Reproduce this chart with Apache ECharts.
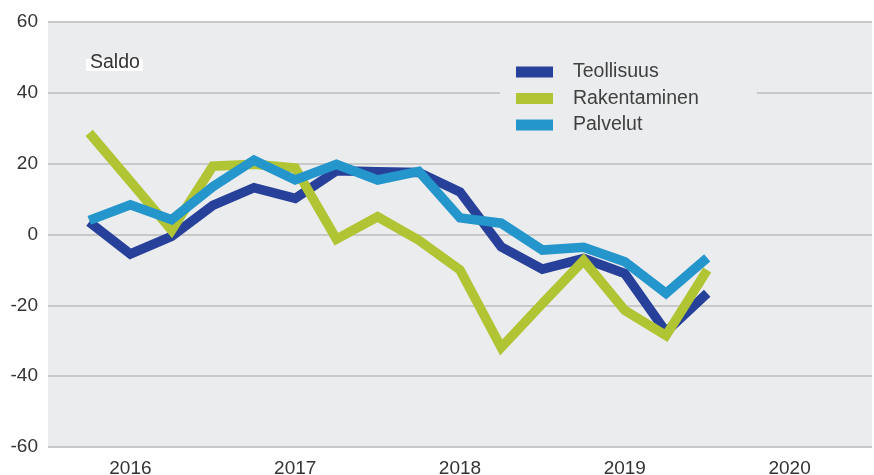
<!DOCTYPE html>
<html>
<head>
<meta charset="utf-8">
<script src="https://cdn.jsdelivr.net/npm/echarts@6/dist/echarts.min.js"></script>
<style>
    html, body {margin: 0; padding: 0; background: #fff;}
    #chart {width: 874px; height: 475px;}
</style>
</head>
<body>
<div id="chart"></div>
<script>
// neljännekset, ensimmäinen ja kolme viimeistä tyhjiä
var quarters = ['2015Q3', '2015Q4',
    '2016Q1', '2016Q2', '2016Q3', '2016Q4',
    '2017Q1', '2017Q2', '2017Q3', '2017Q4',
    '2018Q1', '2018Q2', '2018Q3', '2018Q4',
    '2019Q1', '2019Q2', '2019Q3', '2019Q4',
    '2020Q1', '2020Q2', '2020Q3'];
var yTicks = [-60, -40, -20, 0, 20, 40, 60];

var teollisuus = [null, 3.5, -5.5, -0.5, 8.2, 13.2, 10.2, 18, 17.7, 17.5, 12, -3.5, -9.8, -6.8, -11, -27.5, -16.6];
var rakentaminen = [null, 28.7, 15, 1.2, 19.3, 19.8, 18.8, -1.3, 5, -1.6, -10, -31.9, -19.5, -7.3, -21.4, -28.5, -10];
var palvelut = [null, 4, 8.4, 4.2, 13.5, 21, 15.4, 19.8, 15.4, 17.8, 4.7, 3.2, -4.4, -3.6, -7.7, -16.6, -6.6];

var seriesNames = ['Teollisuus', 'Rakentaminen', 'Palvelut'];
var colors = ['#27409a', '#b0c434', '#2596cc'];

var font = '"Liberation Sans", Arial, sans-serif';
var myChart = echarts.init(document.getElementById('chart'));

function lineSeries(name, data, color) {
    return {
        name: name,
        type: 'line',
        data: data,
        symbol: 'none',
        smooth: false,
        connectNulls: false,
        lineStyle: {color: color, width: 9.5, join: 'miter'},
        itemStyle: {color: color},
        emphasis: {disabled: true}
    };
}

var option = {
    animation: false,
    textStyle: {fontFamily: font},
    grid: {
        left: 48, right: 2, top: 22, bottom: 28,
        outerBoundsMode: 'none',
        containLabel: false,
        show: true, backgroundColor: '#ebeced', borderWidth: 0
    },
    legend: {
        data: seriesNames.map(function (n) {
            return {name: n, icon: 'rect'};
        }),
        orient: 'vertical',
        left: 500,
        top: 56,
        padding: [6, 58, 6, 16],
        backgroundColor: '#ebeced',
        itemWidth: 37,
        itemHeight: 11,
        itemGap: 6.5,
        textStyle: {fontFamily: font, fontSize: 19.5, color: '#404040', padding: [0, 0, 0, 15]}
    },
    xAxis: {
        type: 'category',
        data: quarters,
        boundaryGap: false,
        axisLine: {show: false},
        axisTick: {show: false},
        splitLine: {show: false},
        axisLabel: {
            interval: 0,
            margin: 12,
            fontSize: 19,
            color: '#333',
            fontFamily: font,
            formatter: function (v) {
                return v.slice(4) === 'Q1' ? v.slice(0, 4) : '';
            }
        }
    },
    yAxis: {
        type: 'value',
        min: yTicks[0],
        max: yTicks[yTicks.length - 1],
        interval: 20,
        axisLine: {show: false},
        axisTick: {show: false},
        splitLine: {show: true, lineStyle: {color: '#c8c8c8', width: 2}},
        axisLabel: {fontSize: 19, color: '#333', margin: 10, fontFamily: font}
    },
    graphic: [{
        type: 'rect',
        left: 86,
        top: 59,
        z: 9,
        shape: {width: 57, height: 12},
        style: {fill: '#fff'}
    }, {
        type: 'text',
        left: 90,
        top: 53,
        z: 10,
        style: {
            text: 'Saldo',
            font: '19.5px ' + font,
            fill: '#333'
        }
    }],
    series: [
        lineSeries(seriesNames[0], teollisuus, colors[0]),
        lineSeries(seriesNames[1], rakentaminen, colors[1]),
        lineSeries(seriesNames[2], palvelut, colors[2])
    ]
};

myChart.setOption(option);
</script>
</body>
</html>
